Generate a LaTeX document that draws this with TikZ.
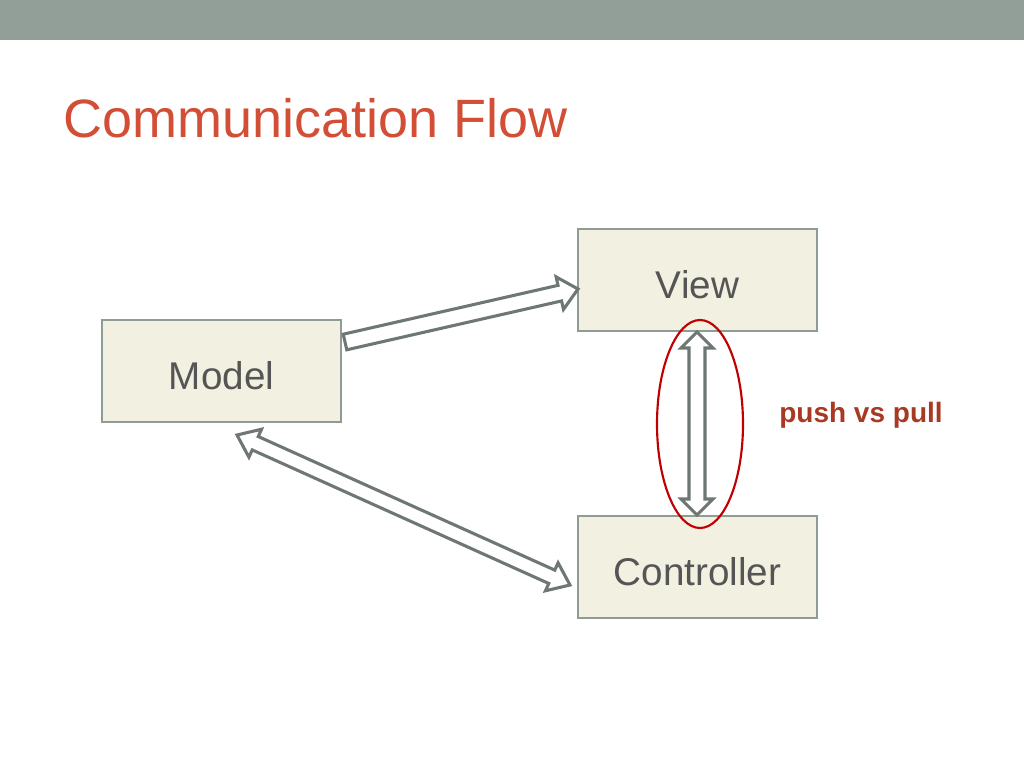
\documentclass[tikz,border=0pt]{standalone}
\usepackage{fontspec}
\setmainfont{Liberation Sans}
\usetikzlibrary{calc}
\definecolor{barcol}{HTML}{929E98}
\definecolor{titlecol}{HTML}{D24E35}
\definecolor{boxfill}{HTML}{F2F0E0}
\definecolor{boxline}{HTML}{8F9B95}
\definecolor{boxtext}{HTML}{555555}
\definecolor{arrline}{HTML}{6F7772}
\definecolor{ellcol}{HTML}{C00000}
\definecolor{notecol}{HTML}{A83A24}
\tikzset{
  mvcbox/.style={draw=boxline, fill=boxfill, line width=1.5pt, minimum width=239*0.75pt, minimum height=102*0.75pt, inner sep=0pt, font=\fontsize{29}{34}\selectfont, text=boxtext},
  blockarr/.style={draw=arrline, fill=white, line width=2.3pt, line join=miter},
}
\newcommand{\lowertext}[1]{\raisebox{-3pt}[\height][0pt]{#1}}
% single-headed block arrow from #1 to #2: shaft half width #3, head half width #4, head length #5
\newcommand{\singleblockarrow}[5]{%
  \draw[blockarr]
    ($(#1)!#3!90:(#2)$) --
    ($($(#2)!#5!(#1)$)!#3!-90:(#1)$) --
    ($($(#2)!#5!(#1)$)!#4!-90:(#1)$) --
    (#2) --
    ($($(#2)!#5!(#1)$)!#4!90:(#1)$) --
    ($($(#2)!#5!(#1)$)!#3!90:(#1)$) --
    ($(#1)!#3!-90:(#2)$) -- cycle;}
% double-headed block arrow between #1 and #2
\newcommand{\doubleblockarrow}[5]{%
  \draw[blockarr]
    (#1) --
    ($($(#1)!#5!(#2)$)!#4!90:(#2)$) --
    ($($(#1)!#5!(#2)$)!#3!90:(#2)$) --
    ($($(#2)!#5!(#1)$)!#3!-90:(#1)$) --
    ($($(#2)!#5!(#1)$)!#4!-90:(#1)$) --
    (#2) --
    ($($(#2)!#5!(#1)$)!#4!90:(#1)$) --
    ($($(#2)!#5!(#1)$)!#3!90:(#1)$) --
    ($($(#1)!#5!(#2)$)!#3!-90:(#2)$) --
    ($($(#1)!#5!(#2)$)!#4!-90:(#2)$) -- cycle;}
\begin{document}
\begin{tikzpicture}[x=0.75pt, y=-0.75pt]
\useasboundingbox (0,0) rectangle (1024,768);
\fill[white] (0,0) rectangle (1024,768);
\fill[barcol] (0,0) rectangle (1024,40);
\node[anchor=base west, inner sep=0pt, text=titlecol, font=\fontsize{40.5}{48}\selectfont] (title) at (63,137) {Communication Flow};

\node[mvcbox] (view) at (697.5,280) {\lowertext{View}};
\node[mvcbox] (model) at (221.5,371) {\lowertext{Model}};
\node[mvcbox] (ctrl) at (697.5,567) {\lowertext{Controller}};

\coordinate (mvA) at (345,342);
\coordinate (mvB) at (578,289);
\coordinate (mcA) at (237,435);
\coordinate (mcB) at (570,585);
\coordinate (vcA) at (697,332);
\coordinate (vcB) at (697,515);

\singleblockarrow{mvA}{mvB}{6pt}{12.5pt}{14pt}
\doubleblockarrow{mcA}{mcB}{5.5pt}{11.5pt}{15pt}
\doubleblockarrow{vcA}{vcB}{6pt}{12pt}{12pt}

\draw[ellcol, line width=1.6pt] (700,424) ellipse [x radius=43, y radius=104];
\node[text=notecol, font=\bfseries\fontsize{21}{25}\selectfont, inner sep=0pt] (note) at (861,415) {push vs pull};
\end{tikzpicture}
\end{document}
